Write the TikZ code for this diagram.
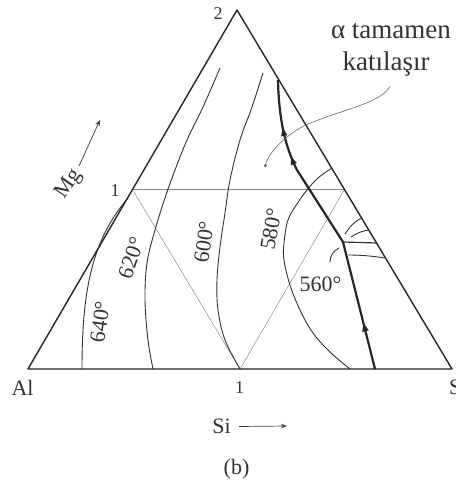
\documentclass[tikz,border=0pt]{standalone}
\usepackage{fontspec}
\setmainfont{Liberation Serif}
\usetikzlibrary{arrows.meta,decorations.markings}
\begin{document}
\begin{tikzpicture}[x=1pt,y=-1pt,
  edge/.style={line width=1.4pt, draw=black!85, line join=round},
  iso/.style={line width=0.9pt, draw=black!80},
  guide/.style={line width=0.5pt, draw=black!45},
  valley/.style={line width=2.2pt, draw=black!85, line join=round},
  lbl/.style={text=black!80, font=\fontsize{22}{24}\selectfont, inner sep=0pt},
  num/.style={text=black!80, font=\fontsize{18}{20}\selectfont, inner sep=0pt},
  big/.style={text=black!80, font=\fontsize{27}{29}\selectfont, inner sep=0pt},
  uptip/.style={-{Stealth[length=6pt,width=4.5pt]}, line width=0.7pt, draw=black!75}
]
\useasboundingbox (0,0) rectangle (455,484);
\fill[white] (0,0) rectangle (455,484);

% corners and midpoints
\coordinate (A) at (237,10);
\coordinate (L) at (28,369);
\coordinate (R) at (452,369);
\coordinate (mL) at (132.5,189.5);
\coordinate (mB) at (240,369);
\coordinate (mR) at (344.5,189.5);

% inner guide triangle
\draw[guide] (mL) -- (mR);
\draw[guide] (mL) -- (mB) -- (mR);

% isotherms
\draw[iso] (82,369) .. controls (82,290) and (92,240) .. (128,198);
\draw[iso] plot[smooth, tension=0.6] coordinates {(153,369) (148,340) (145,300) (147,263) (155,230) (165,198) (175,170) (187,140) (203,107) (220,68)};
\draw[iso] plot[smooth, tension=0.6] coordinates {(240,369) (225,340) (218,310) (217,280) (220,247) (225,213) (230,180) (240,140) (252,107) (263,73)};
\draw[iso] plot[smooth, tension=0.6] coordinates {(350,369) (330,352) (313,333) (300,310) (290,285) (284,260) (284,243) (288,220) (297,204) (307,190) (318,178) (332,168)};

% small isotherm pieces near the eutectic point
\draw[iso] (345,234) .. controls (350,226) and (355,221) .. (362,218);
\draw[iso] (351,237) .. controls (357,233) and (362,231) .. (369,230);
\draw[iso, line width=1.2pt] (343,242) -- (377,243);
\draw[iso] (348,255) .. controls (360,255) and (373,256) .. (385,258);
\draw[iso] (339,248) .. controls (333,251) and (330,256) .. (330,262);

% triangle outline
\draw[edge] (A) -- (L) -- (R) -- cycle;

% eutectic valley
\draw[valley, postaction={decorate}, decoration={markings,
    mark=at position 48pt with {\arrow{Triangle[length=9pt,width=6pt]}},
    mark=at position 232pt with {\arrow{Triangle[length=9pt,width=5.5pt]}},
    mark=at position 262pt with {\arrow{Triangle[length=9pt,width=5.5pt]}}}]
  (375,369) -- (343,242) -- (297,170) .. controls (287,150) and (279,125) .. (278,80);

% labels
\node[num] (n2) at (218,14) {2};
\node[num] (n1l) at (115,191) {1};
\node[num] (n1b) at (239.5,388) {1};
\node[lbl] (al) at (22.5,387.5) {Al};
\node[lbl, anchor=west] (sir) at (449,387.5) {Si};

\node[lbl, rotate=82] (t640) at (100,322) {640°};
\node[lbl, rotate=71] (t620) at (131,258) {620°};
\node[lbl, rotate=82] (t600) at (204,242) {600°};
\node[lbl, rotate=80] (t580) at (271,229) {580°};
\node[lbl] (t560) at (320.5,284) {560°};

\node[big] (alpha) at (391,31) {α tamamen};
\node[big] (kat) at (386,64) {katılaşır};
\coordinate (ptr) at (265,167);
\draw[black!60, line width=0.6pt, -{Circle[length=3pt]}]
  ([shift={(4pt,-10pt)}]kat.south) .. controls (380,105) and (330,112) .. (300,128)
  .. controls (280,140) and (268,155) .. (ptr);

% axis labels
\node[lbl, rotate=55] (mg) at (69,184) {Mg};
\coordinate (mgt) at (100,120);
\draw[uptip] ([shift={(6pt,10pt)}]mg.center) ++(4pt,8pt) -- (mgt);

\node[lbl] (si) at (221.5,426.5) {Si};
\coordinate (sit) at (287,426);
\draw[uptip] ([xshift=8pt]si.east) -- (sit);

\node[lbl] (cap) at (236.5,469.5) {(b)};
\end{tikzpicture}
\end{document}
